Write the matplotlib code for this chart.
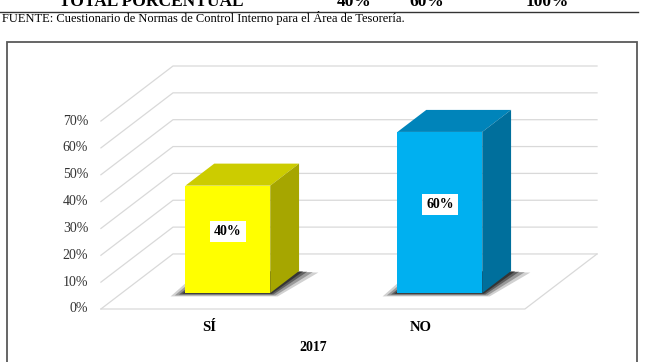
import matplotlib
matplotlib.use('Agg')
import matplotlib.pyplot as plt
from matplotlib.patches import Polygon, Rectangle

plt.rcParams['font.family'] = ['Liberation Serif', 'DejaVu Serif']

# data
categories = ['SÍ', 'NO']
values = [40, 60]
ticks = [0, 10, 20, 30, 40, 50, 60, 70]
tick_labels = ['0%', '10%', '20%', '30%', '40%', '50%', '60%', '70%']
value_labels = ['40%', '60%']
axis_title = '2017'
table_row = ['TOTAL PORCENTUAL', '40%', '60%', '100%']
source = 'FUENTE: Cuestionario de Normas de Control Interno para el Área de Tesorería.'

front_colors = ['#FFFF00', '#00B0F0']
top_colors = ['#CCCC00', '#0084BA']
side_colors = ['#A6A600', '#006F9C']

# fake 3d: full depth of the floor as an offset in data units
DX, DY = 0.34, 20.5
f0, f1 = 0.29, 0.69      # bar sits between these depth fractions
W = 0.40                 # bar width (category units)

fig = plt.figure(figsize=(6.46, 3.62), dpi=100)
ax = fig.add_axes([0, 0, 1, 1])
ax.set_xlim(-0.976, 2.071)
ax.set_ylim(-19.74, 115.08)
ax.axis('off')

x_left, x_right = -0.5, len(categories) - 0.5
grid_c = '#D9D9D9'

# side wall + back wall gridlines
for t in ticks:
    ax.plot([x_left, x_left + DX, x_right + DX], [t, t + DY, t + DY],
            color=grid_c, lw=0.9, zorder=1)
# floor front and right edge
ax.plot([x_left, x_right, x_right + DX], [0, 0, DY], color=grid_c, lw=0.9, zorder=1)

for t, lab in zip(ticks, tick_labels):
    ax.text(x_left - 0.06, t, lab, ha='right', va='center', fontsize=10, color='#333333')

d = f1 - f0
for i, v in enumerate(values):
    x0 = i - W / 2 + f0 * DX
    y0 = f0 * DY
    # blurred shadow on the floor
    for k, a in [(0.07, 0.2), (0.05, 0.3), (0.03, 0.45), (0.015, 0.6)]:
        sh = [(x0 - k, y0 - k * 18), (x0 + W + k * 0.5, y0 - k * 18),
              (x0 + W + d * DX + k * 1.3, y0 + d * DY - k * 8), (x0 + d * DX - k, y0 + d * DY)]
        ax.add_patch(Polygon(sh, closed=True, color='#1a1a1a', alpha=a, lw=0, zorder=2))
    front = Rectangle((x0, y0), W, v, facecolor=front_colors[i], edgecolor='none', zorder=3)
    top = Polygon([(x0, y0 + v), (x0 + W, y0 + v), (x0 + W + d * DX, y0 + v + d * DY),
                   (x0 + d * DX, y0 + v + d * DY)], closed=True,
                  facecolor=top_colors[i], edgecolor='none', zorder=3)
    side = Polygon([(x0 + W, y0), (x0 + W, y0 + v), (x0 + W + d * DX, y0 + v + d * DY),
                    (x0 + W + d * DX, y0 + d * DY)], closed=True,
                   facecolor=side_colors[i], edgecolor='none', zorder=3)
    ax.add_patch(front)
    ax.add_patch(top)
    ax.add_patch(side)
    ax.text(x0 + W / 2, y0 + v / 2 + 3, value_labels[i], ha='center', va='center',
            fontsize=10, fontweight='bold', zorder=5,
            bbox=dict(facecolor='white', edgecolor='none', pad=3))
    ax.text(i + 0.01, -6.8, categories[i], ha='center', va='center',
            fontsize=10.5, fontweight='bold')

ax.text((x_left + x_right) / 2, -14.5, axis_title, ha='center', va='center',
        fontsize=10, fontweight='bold')

# chart frame
fig.patches.append(Rectangle((7 / 646, -0.05), 630 / 646, 1 - 42 / 362 + 0.05,
                             transform=fig.transFigure, fill=False,
                             edgecolor='#595959', lw=1.3))

# table remnant above the chart (cut off at the top, as in the source page)
row_x = [151, 354, 427, 547]
for s, px in zip(table_row, row_x):
    fig.text(px / 646, 1 - 6 / 362, s, ha='center', va='baseline',
             fontsize=12.5, fontweight='bold')
fig.add_artist(plt.Line2D([0, 638 / 646], [1 - 11.5 / 362] * 2,
                          transform=fig.transFigure, color='#333333', lw=1))
fig.text(2 / 646, 1 - 22 / 362, source, ha='left', va='baseline', fontsize=9)

fig.savefig('out.png', dpi=100)
